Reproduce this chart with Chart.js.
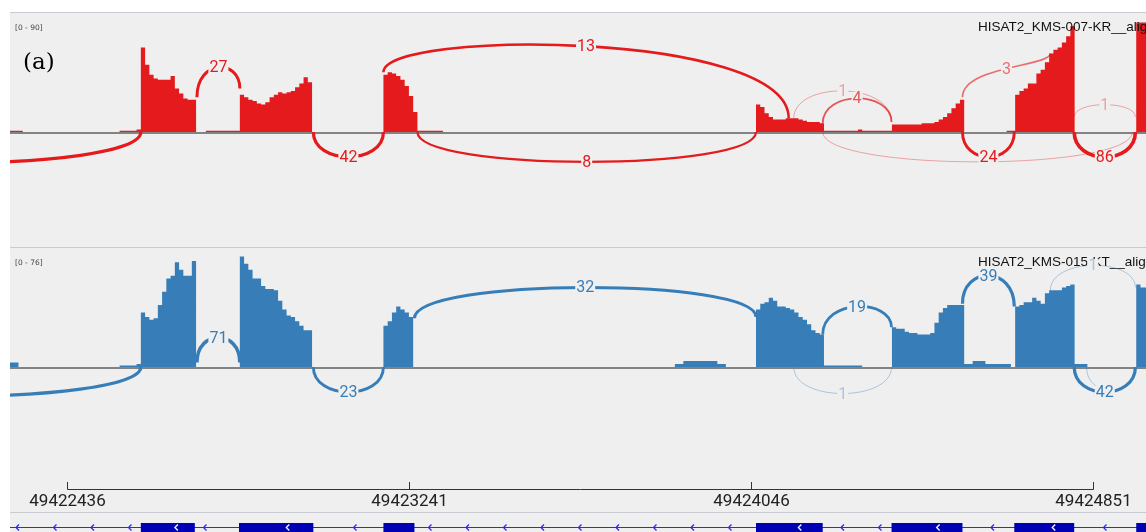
<!DOCTYPE html>
<html lang="en">
<head>
<meta charset="UTF-8">
<title>Sashimi plot</title>
<script src="https://cdn.jsdelivr.net/npm/chart.js"></script>
<style>
  html, body { margin: 0; padding: 0; background: #fff; }
  canvas { display: block; }
</style>
</head>
<body>
<canvas id="sashimi" width="1146" height="532"></canvas>
<script>
// visible locus and ruler
const viewStart = 49422302;
const viewEnd = 49424976;
const rulerTicks = [49422436, 49423241, 49424046, 49424851];
const binSize = 10;

// coverage: block start positions and per-10bp read depth
const redBlockStarts = [49422302, 49422560, 49422763, 49423181, 49424058, 49424648, 49424953];
const redBlockValues = [
  [1, 1, 1],
  [1, 1, 1, 1, 2, 68, 54, 46, 43, 42, 42, 42, 45, 35, 31, 27, 26, 26],
  [1, 1, 1, 1, 1, 1, 1, 1, 30, 28, 26, 25, 23, 22, 24, 28, 30, 32, 31, 32, 33, 36, 39, 44, 40],
  [46, 48, 47, 45, 42, 37, 29, 16, 1, 1, 1, 1, 1, 1],
  [22, 20, 15, 12, 10, 10, 10, 11, 11, 11, 10, 9, 8, 8, 8, 7,
   1, 1, 1, 1, 1, 1, 1, 1, 2, 1, 1, 1, 1, 1, 1, 1,
   6, 6, 6, 6, 6, 6, 6, 7, 7, 7, 8, 10, 12, 15, 19, 23, 26],
  [1, 1, 30, 33, 35, 39, 39, 47, 50, 56, 63, 66, 68, 72, 77, 85],
  [88, 88, 88]
];
const blueBlockStarts = [49422302, 49422560, 49422843, 49423181, 49423867, 49424058, 49424378, 49424668, 49424953];
const blueBlockValues = [
  [3, 3],
  [1, 1, 1, 1, 2, 37, 34, 32, 33, 42, 51, 60, 62, 71, 66, 62, 62, 72],
  [75, 70, 66, 60, 60, 55, 53, 53, 52, 45, 39, 35, 34, 31, 28, 25, 25],
  [28, 31, 37, 41, 39, 37, 34],
  [2, 2, 4, 4, 4, 4, 4, 4, 4, 4, 2, 2],
  [39, 43, 44, 47, 45, 41, 41, 40, 39, 37, 34, 32, 29, 25, 23, 22, 1, 1, 1, 1, 1, 1, 1, 1, 1],
  [27, 26, 26, 24, 23, 23, 22, 22, 22, 23, 30, 37, 40, 42, 42, 42, 42, 2, 2, 4, 4, 4, 2, 2, 2, 2, 2, 2],
  [41, 42, 44, 44, 47, 45, 43, 50, 52, 52, 52, 54, 55, 56, 2, 2, 2],
  [56, 54, 54]
];

// junctions: start, end, read count, flank depth left/right, depth at label (negative = below axis)
const redJuncStart = [49422742, 49423181, 49424147, 49424215, 49424544, 49424807, 49421700, 49423016, 49423261, 49424215, 49424544, 49424807];
const redJuncEnd   = [49422843, 49424135, 49424377, 49424377, 49424751, 49424951, 49422610, 49423181, 49424058, 49424944, 49424666, 49424951];
const redJuncCount = [27, 13, 1, 4, 3, 1, 40, 42, 8, 1, 24, 86];
const redJuncDepthL = [28, 48, 11, 7, 28, 12, 0, 0, 0, 0, 0, 0];
const redJuncDepthR = [35, 11, 8, 8, 63, 12, 0, 0, 0, 0, 0, 0];
const redJuncApex  = [52, 69, 33, 27, 51, 22, -25, -20, -24, -24, -20, -20];

const blueJuncStart = [49422742, 49423254, 49424215, 49424544, 49424751, 49421700, 49423016, 49424147, 49424807, 49424836];
const blueJuncEnd   = [49422843, 49424058, 49424377, 49424666, 49424951, 49422610, 49423181, 49424377, 49424951, 49424951];
const blueJuncCount = [71, 32, 19, 39, 1, 40, 23, 1, 42, 1];
const blueJuncDepthL = [3, 33, 22, 43, 52, 0, 0, 0, 0, 0];
const blueJuncDepthR = [3, 34, 27, 41, 54, 0, 0, 0, 0, 0];
const blueJuncApex  = [20, 54, 41, 62, 69, -20, -17, -18, -17, -16];

// gene model exons
const exonStarts = [49422610, 49422841, 49423181, 49424058, 49424377, 49424666, 49424953];
const exonEnds   = [49422737, 49423016, 49423254, 49424215, 49424544, 49424807, 49425100];

const redRange = 90, blueRange = 76;
const RED = '228,26,28', BLUE = '55,126,184';

function buildPoints(starts, blocks) {
  const pts = [];
  starts.forEach((s, b) => {
    blocks[b].forEach((v, i) => pts.push({ x: s + i * binSize, y: v }));
    pts.push({ x: s + blocks[b].length * binSize, y: 0 });
  });
  return pts;
}

// y scales: zero line and top of data range placed at fixed pixel rows
function trackScale(range, zeroPx, topPx, h) {
  const per = (zeroPx - topPx) / range;
  return { min: -(h - zeroPx) / per, max: zeroPx / per };
}
const H = 532;
const redY = trackScale(redRange, 132, 20, H);
const blueY = trackScale(blueRange, 367, 255, H);

function drawJunctions(chart, ys, rgb, starts, ends, counts, depL, depR, apex) {
  const ctx = chart.ctx, xs = chart.scales.x, a = chart.chartArea;
  const order = counts.map((c, i) => i).sort((p, q) => counts[p] - counts[q]);
  const col = c => 'rgba(' + rgb + ',' + Math.min(1, 0.25 + 0.12 * c) + ')';
  ctx.save();
  ctx.beginPath();
  ctx.rect(a.left, a.top, a.right - a.left, a.bottom - a.top);
  ctx.clip();
  ctx.lineCap = 'butt';
  const labels = [];
  order.forEach(i => {
    const x1 = xs.getPixelForValue(starts[i]), x2 = xs.getPixelForValue(ends[i]);
    const y1 = ys.getPixelForValue(depL[i]), y2 = ys.getPixelForValue(depR[i]);
    const ym = ys.getPixelForValue(apex[i]);
    const c = (ym - (y1 + y2) / 8) / 0.75;
    ctx.strokeStyle = col(counts[i]);
    ctx.lineWidth = 1 + 0.6 * Math.log(counts[i]);
    ctx.beginPath();
    ctx.moveTo(x1, y1);
    ctx.bezierCurveTo(x1, c, x2, c, x2, y2);
    ctx.stroke();
    labels.push({ i: i, x: (x1 + x2) / 2, y: ym });
  });
  ctx.font = '16px Roboto';
  ctx.textAlign = 'center';
  ctx.textBaseline = 'middle';
  const placed = [];
  labels.reverse().forEach(l => {
    const txt = String(counts[l.i]);
    const w = ctx.measureText(txt).width + 2, h = 13;
    const box = { l: l.x - w / 2, r: l.x + w / 2, t: l.y - h / 2, b: l.y + h / 2 };
    if (placed.some(p => box.l < p.r && box.r > p.l && box.t < p.b && box.b > p.t)) return;
    placed.push(box);
    ctx.fillStyle = '#efefef';
    ctx.fillRect(box.l, box.t, w, h);
    ctx.fillStyle = col(counts[l.i]);
    ctx.fillText(txt, l.x, l.y + 1);
  });
  ctx.restore();
}

const sashimiDecor = {
  id: 'sashimiDecor',
  beforeDraw(chart) {
    const ctx = chart.ctx, W = chart.width;
    ctx.save();
    ctx.fillStyle = '#ffffff';
    ctx.fillRect(0, 0, W, chart.height);
    ctx.fillStyle = '#efefef';
    ctx.fillRect(10, 12, W - 10, chart.height - 12);
    ctx.strokeStyle = '#cacad2';
    ctx.lineWidth = 1;
    [12.5, 247.5, 512.5].forEach(y => {
      ctx.beginPath(); ctx.moveTo(10, y); ctx.lineTo(W, y); ctx.stroke();
    });
    ctx.restore();
  },
  afterDatasetsDraw(chart) {
    const ctx = chart.ctx, W = chart.width, xs = chart.scales.x;
    const yR = chart.scales.yR, yB = chart.scales.yB;
    ctx.save();
    // zero lines
    ctx.strokeStyle = '#5f5f5f';
    ctx.lineWidth = 1.5;
    [yR, yB].forEach(s => {
      const y = Math.round(s.getPixelForValue(0)) + 1;
      ctx.beginPath(); ctx.moveTo(10, y); ctx.lineTo(W, y); ctx.stroke();
    });
    // range labels and track names
    ctx.fillStyle = '#444';
    ctx.font = '7.5px "DejaVu Sans"';
    ctx.textBaseline = 'middle';
    ctx.fillText('[0 - ' + redRange + ']', 15, 28);
    ctx.fillText('[0 - ' + blueRange + ']', 15, 263);
    ctx.fillStyle = '#111';
    ctx.font = '13.5px "Liberation Sans"';
    ctx.fillText('HISAT2_KMS-007-KR__alignments.bam', 978, 27);
    ctx.fillText('HISAT2_KMS-015-KT__alignments.bam', 978, 262);
    ctx.fillStyle = '#000';
    ctx.font = '23px "DejaVu Serif"';
    ctx.textBaseline = 'alphabetic';
    ctx.fillText('(a)', 23, 69);
    ctx.restore();

    drawJunctions(chart, yR, RED, redJuncStart, redJuncEnd, redJuncCount, redJuncDepthL, redJuncDepthR, redJuncApex);
    drawJunctions(chart, yB, BLUE, blueJuncStart, blueJuncEnd, blueJuncCount, blueJuncDepthL, blueJuncDepthR, blueJuncApex);

    ctx.save();
    // ruler
    const tx = rulerTicks.map(t => Math.round(xs.getPixelForValue(t)) + 0.5);
    ctx.strokeStyle = '#333';
    ctx.lineWidth = 1;
    ctx.beginPath();
    ctx.moveTo(tx[0], 489.5); ctx.lineTo(tx[tx.length - 1], 489.5);
    tx.forEach(x => { ctx.moveTo(x, 482); ctx.lineTo(x, 489.5); });
    ctx.stroke();
    ctx.fillStyle = '#222';
    ctx.font = '17px Roboto';
    ctx.textAlign = 'center';
    ctx.textBaseline = 'middle';
    rulerTicks.forEach((t, i) => ctx.fillText(String(t), tx[i], 502));

    // gene track
    const gy = 527.5;
    ctx.strokeStyle = '#2b2bf0';
    ctx.beginPath(); ctx.moveTo(10, gy); ctx.lineTo(W, gy); ctx.stroke();
    const ex = exonStarts.map((s, i) => [xs.getPixelForValue(s), xs.getPixelForValue(exonEnds[i])]);
    const chevron = (x, color) => {
      ctx.strokeStyle = color;
      ctx.lineWidth = 1.3;
      ctx.beginPath();
      ctx.moveTo(x + 2, gy - 3); ctx.lineTo(x - 1, gy); ctx.lineTo(x + 2, gy + 3);
      ctx.stroke();
    };
    for (let x = 17; x < W; x += 37.5) {
      if (ex.some(e => x > e[0] - 4 && x < e[1] + 4)) continue;
      chevron(x, '#2b2bf0');
    }
    ctx.fillStyle = '#0000b4';
    ex.forEach(e => ctx.fillRect(e[0], 523, e[1] - e[0], 9));
    ex.forEach(e => { if (e[1] - e[0] > 40) chevron(e[0] + (e[1] - e[0]) * 0.65, '#ffffff'); });
    ctx.restore();
  }
};

function coverageSet(label, pts, rgb, axis) {
  return {
    label: label,
    data: pts,
    yAxisID: axis,
    stepped: true,
    fill: 'origin',
    backgroundColor: 'rgb(' + rgb + ')',
    borderColor: 'rgba(0,0,0,0)',
    borderWidth: 0,
    pointRadius: 0
  };
}

new Chart(document.getElementById('sashimi'), {
  type: 'line',
  data: {
    datasets: [
      coverageSet('KMS-007-KR', buildPoints(redBlockStarts, redBlockValues), RED, 'yR'),
      coverageSet('KMS-015-KT', buildPoints(blueBlockStarts, blueBlockValues), BLUE, 'yB')
    ]
  },
  options: {
    responsive: false,
    animation: false,
    devicePixelRatio: 1,
    layout: { padding: { left: 10, right: 0, top: 0, bottom: 0 } },
    plugins: { legend: { display: false }, tooltip: { enabled: false } },
    scales: {
      x: { type: 'linear', min: viewStart, max: viewEnd, display: false },
      yR: { type: 'linear', min: redY.min, max: redY.max, display: false },
      yB: { type: 'linear', min: blueY.min, max: blueY.max, display: false }
    }
  },
  plugins: [sashimiDecor]
});
</script>
</body>
</html>
